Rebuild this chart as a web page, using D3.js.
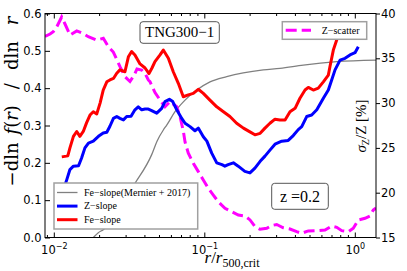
<!DOCTYPE html>
<html>
<head>
<meta charset="utf-8">
<script src="https://cdn.jsdelivr.net/npm/d3@7"></script>
<style>
  body { margin: 0; background: #fff; }
  svg { display: block; }
</style>
</head>
<body>
<div id="wrapper"></div>
<script>
// values (r in units of r500,crit)
const feSlopeR = [0.0113, 0.0121, 0.0124, 0.0128, 0.0135, 0.0142, 0.0149, 0.0157, 0.0165, 0.0174, 0.0183, 0.0193, 0.0203, 0.0213, 0.0225, 0.0236, 0.0249, 0.0262, 0.0275, 0.0297, 0.0313, 0.0329, 0.0346, 0.0374, 0.0404, 0.0429, 0.0449, 0.0470, 0.0508, 0.0534, 0.0577, 0.0622, 0.0672, 0.0725, 0.0783, 0.0845, 0.0912, 0.0985, 0.109, 0.121, 0.134, 0.148, 0.164, 0.182, 0.201, 0.217, 0.235, 0.253, 0.273, 0.295, 0.318, 0.344, 0.371, 0.401, 0.432, 0.467, 0.491, 0.530, 0.572, 0.618, 0.667, 0.684, 0.720, 0.758, 0.798, 0.835]
const feSlopeVal = [0.216, 0.218, 0.219, 0.240, 0.271, 0.284, 0.271, 0.284, 0.307, 0.328, 0.337, 0.331, 0.360, 0.395, 0.417, 0.422, 0.426, 0.440, 0.449, 0.444, 0.484, 0.498, 0.489, 0.465, 0.454, 0.439, 0.454, 0.471, 0.489, 0.502, 0.480, 0.444, 0.413, 0.377, 0.382, 0.386, 0.397, 0.386, 0.368, 0.350, 0.337, 0.324, 0.306, 0.293, 0.283, 0.275, 0.279, 0.293, 0.306, 0.317, 0.315, 0.315, 0.337, 0.346, 0.373, 0.395, 0.402, 0.395, 0.400, 0.417, 0.435, 0.458, 0.502, 0.529, 0.551, 0.577]

const zSlopeR = [0.0115, 0.0117, 0.0122, 0.0128, 0.0135, 0.0146, 0.0153, 0.0161, 0.0170, 0.0183, 0.0198, 0.0213, 0.0225, 0.0236, 0.0249, 0.0262, 0.0275, 0.0290, 0.0305, 0.0326, 0.0346, 0.0364, 0.0384, 0.0404, 0.0425, 0.0447, 0.0483, 0.0521, 0.0548, 0.0586, 0.0617, 0.0656, 0.0708, 0.0745, 0.0804, 0.0867, 0.0912, 0.0985, 0.104, 0.112, 0.121, 0.131, 0.137, 0.144, 0.156, 0.168, 0.186, 0.201, 0.217, 0.235, 0.253, 0.273, 0.295, 0.327, 0.361, 0.390, 0.421, 0.444, 0.479, 0.517, 0.559, 0.618, 0.667, 0.702, 0.739, 0.798, 0.861, 0.929, 1.003, 1.055]
const zSlopeVal = [0.122, 0.133, 0.155, 0.182, 0.191, 0.192, 0.213, 0.240, 0.253, 0.258, 0.271, 0.280, 0.282, 0.298, 0.319, 0.324, 0.319, 0.315, 0.324, 0.325, 0.342, 0.350, 0.342, 0.344, 0.344, 0.340, 0.333, 0.346, 0.364, 0.370, 0.364, 0.342, 0.319, 0.306, 0.297, 0.286, 0.293, 0.270, 0.258, 0.226, 0.200, 0.195, 0.191, 0.195, 0.200, 0.191, 0.177, 0.173, 0.186, 0.204, 0.218, 0.234, 0.250, 0.258, 0.260, 0.273, 0.289, 0.297, 0.324, 0.328, 0.342, 0.373, 0.395, 0.422, 0.449, 0.475, 0.480, 0.489, 0.495, 0.511]

// scatter is on the right axis, in percent
const zScatterR = [0.00874, 0.00944, 0.00992, 0.01045, 0.01128, 0.01187, 0.01281, 0.0142, 0.01563, 0.01695, 0.01928, 0.02133, 0.02302, 0.02485, 0.02753, 0.02972, 0.03208, 0.03426, 0.0357, 0.03837, 0.04036, 0.04246, 0.04357, 0.04704, 0.05078, 0.05482, 0.05918, 0.06556, 0.06896, 0.07254, 0.07446, 0.07831, 0.08451, 0.09123, 0.09848, 0.1063, 0.1148, 0.1239, 0.1372, 0.1521, 0.1682, 0.1864, 0.2013, 0.2173, 0.2345, 0.2598, 0.2805, 0.3028, 0.3349, 0.371, 0.4111, 0.4438, 0.491, 0.5585, 0.6339, 0.7024, 0.7583, 0.8185, 0.9053, 0.9773, 1.055, 1.169, 1.262, 1.327, 1.383]
const zScatterPct = [37.43, 37.71, 37.97, 38.49, 39.61, 38.83, 37.60, 38.05, 37.77, 37.41, 37.04, 37.23, 36.29, 35.70, 34.08, 32.95, 32.41, 33.14, 33.81, 33.69, 33.33, 32.58, 32.39, 31.18, 30.35, 29.60, 30.16, 29.60, 28.48, 26.89, 25.66, 24.40, 23.28, 22.35, 21.42, 20.49, 19.74, 18.99, 18.26, 17.88, 17.51, 17.40, 16.96, 16.21, 15.92, 16.03, 16.34, 16.45, 16.09, 15.95, 15.65, 15.47, 15.73, 15.76, 15.84, 16.28, 16.14, 15.76, 15.65, 16.03, 16.95, 17.14, 17.40, 18.07, 18.29]

// Fe slope from Mernier+2017 (grey)
const mernierR = [0.01688, 0.01831, 0.01976, 0.02133, 0.03463, 0.04472, 0.04851, 0.05342, 0.05627, 0.06388, 0.07446, 0.08903, 0.1091, 0.1409, 0.1815, 0.2466, 0.3184, 0.4548, 0.7583, 1.383]
const mernierVal = [-0.015, 0.0, 0.013, 0.021, 0.145, 0.222, 0.258, 0.288, 0.301, 0.337, 0.368, 0.395, 0.417, 0.431, 0.441, 0.449, 0.453, 0.462, 0.471, 0.475]

const xMajorTicks = [0.01, 0.1, 1]
const xTickExponents = ["\u22122", "\u22121", "0"]
const yLeftTicks = [0, 0.1, 0.2, 0.3, 0.4, 0.5, 0.6]
const yRightTicks = [15, 20, 25, 30, 35, 40]

function drawChart() {
    let dims = {
        width: 407,
        height: 271,
        margin: { top: 13.5, right: 31, bottom: 33.5, left: 45 },
    }
    dims.boundWidth = dims.width - dims.margin.left - dims.margin.right
    dims.boundHeight = dims.height - dims.margin.top - dims.margin.bottom

    const wrapper = d3.select("#wrapper")
        .append("svg")
            .attr("width", dims.width)
            .attr("height", dims.height)

    const bound = wrapper.append("g")
        .attr("transform", `translate(${dims.margin.left},${dims.margin.top})`)

    // scales
    const xScale = d3.scaleLog()
        .domain([0.00874, 1.383])
        .range([0, dims.boundWidth])
    const yScale = d3.scaleLinear()
        .domain([0, 0.6])
        .range([dims.boundHeight, 0])
    const y2Scale = d3.scaleLinear()
        .domain([15, 40])
        .range([dims.boundHeight, 0])

    // keep lines inside the axes box
    bound.append("clipPath").attr("id", "plotClip")
        .append("rect")
            .attr("width", dims.boundWidth)
            .attr("height", dims.boundHeight)

    const lines = bound.append("g").attr("clip-path", "url(#plotClip)")

    const slopeLine = d3.line()
        .x(d => xScale(d[0]))
        .y(d => yScale(d[1]))
    const scatterLine = d3.line()
        .x(d => xScale(d[0]))
        .y(d => y2Scale(d[1]))

    lines.append("path")
        .attr("d", slopeLine.curve(d3.curveMonotoneX)(d3.zip(mernierR, mernierVal)))
        .attr("fill", "none")
        .attr("stroke", "#808080")
        .attr("stroke-width", 1.3)
    slopeLine.curve(d3.curveLinear)

    lines.append("path")
        .attr("d", scatterLine(d3.zip(zScatterR, zScatterPct)))
        .attr("fill", "none")
        .attr("stroke", "#ff00ff")
        .attr("stroke-width", 3)
        .attr("stroke-dasharray", "11,5")

    lines.append("path")
        .attr("d", slopeLine(d3.zip(zSlopeR, zSlopeVal)))
        .attr("fill", "none")
        .attr("stroke", "#0000ff")
        .attr("stroke-width", 3)
        .attr("stroke-linejoin", "round")

    lines.append("path")
        .attr("d", slopeLine(d3.zip(feSlopeR, feSlopeVal)))
        .attr("fill", "none")
        .attr("stroke", "#ff0000")
        .attr("stroke-width", 3)
        .attr("stroke-linejoin", "round")

    // minor ticks on the log axis
    const xMinorTicks = []
    ;[0.001, 0.01, 0.1].forEach(dec => d3.range(2, 10).forEach(k => {
        const v = k * dec
        if (v >= xScale.domain()[0] && v <= xScale.domain()[1]) xMinorTicks.push(v)
    }))

    // axes: ticks point inward except the right one
    const tickFont = "'DejaVu Sans', sans-serif"
    const xAxisBottom = bound.append("g")
        .attr("transform", `translate(0,${dims.boundHeight})`)
        .call(d3.axisBottom(xScale).tickValues(xMajorTicks).tickSizeInner(-5).tickSizeOuter(0).tickFormat(() => ""))
    bound.append("g")
        .attr("transform", `translate(0,${dims.boundHeight})`)
        .call(d3.axisBottom(xScale).tickValues(xMinorTicks).tickSizeInner(-2.5).tickSizeOuter(0).tickFormat(() => ""))
    bound.append("g")
        .call(d3.axisTop(xScale).tickValues(xMajorTicks).tickSizeInner(-5).tickSizeOuter(0).tickFormat(() => ""))
    bound.append("g")
        .call(d3.axisTop(xScale).tickValues(xMinorTicks).tickSizeInner(-2.5).tickSizeOuter(0).tickFormat(() => ""))

    // 10^n labels
    xAxisBottom.selectAll(".tick text")
        .attr("y", 16.5)
        .attr("dy", null)
        .attr("font-family", tickFont)
        .attr("font-size", 11.5)
        .attr("fill", "#000")
        .each(function(d, i) {
            const t = d3.select(this)
            t.append("tspan").text("10")
            t.append("tspan").attr("dy", -5).attr("font-size", 8).text(xTickExponents[i])
        })

    const yAxisLeft = bound.append("g")
        .call(d3.axisLeft(yScale).tickValues(yLeftTicks).tickSizeInner(-5).tickSizeOuter(0).tickPadding(3.5).tickFormat(d3.format(".1f")))
    const yAxisRight = bound.append("g")
        .attr("transform", `translate(${dims.boundWidth},0)`)
        .call(d3.axisRight(y2Scale).tickValues(yRightTicks).tickSizeInner(4).tickSizeOuter(0).tickPadding(1))

    ;[yAxisLeft, yAxisRight].forEach(ax => ax.selectAll(".tick text")
        .attr("font-family", tickFont)
        .attr("font-size", 11.5)
        .attr("fill", "#000"))

    bound.selectAll(".domain").remove()
    bound.selectAll(".tick line").attr("stroke", "#000")

    // frame
    bound.append("rect")
        .attr("width", dims.boundWidth)
        .attr("height", dims.boundHeight)
        .attr("fill", "none")
        .attr("stroke", "#000")
        .attr("stroke-width", 1)

    const serif = "'Liberation Serif', 'DejaVu Serif', serif"

    // axis labels
    const xLabel = wrapper.append("text")
        .attr("x", 232)
        .attr("y", 262.5)
        .attr("text-anchor", "middle")
        .attr("font-family", serif)
        .attr("font-size", 17)
    xLabel.append("tspan").attr("font-style", "italic").text("r")
    xLabel.append("tspan").text("/")
    xLabel.append("tspan").attr("font-style", "italic").text("r")
    xLabel.append("tspan").attr("dy", 4).attr("font-size", 12).text("500,crit")

    // mathtext in the source leaves wide gaps between the pieces
    const yLabel = wrapper.append("text")
        .attr("transform", `translate(17.5,101.5) rotate(-90)`)
        .attr("text-anchor", "middle")
        .attr("font-family", "'DejaVu Serif', serif")
        .attr("font-size", 18)
    yLabel.append("tspan").text("\u2212dln")
    yLabel.append("tspan").attr("dx", 8).attr("font-style", "italic").text("f")
    yLabel.append("tspan").text("(")
    yLabel.append("tspan").attr("font-style", "italic").text("r")
    yLabel.append("tspan").text(")")
    yLabel.append("tspan").attr("dx", 16).text("/")
    yLabel.append("tspan").attr("dx", 13).text("dln")
    yLabel.append("tspan").attr("dx", 16).attr("font-style", "italic").text("r")

    const y2Label = wrapper.append("text")
        .attr("transform", `translate(366,126) rotate(-90)`)
        .attr("text-anchor", "middle")
        .attr("font-family", serif)
        .attr("font-size", 15)
        .attr("xml:space", "preserve")
    y2Label.append("tspan").attr("font-style", "italic").text("\u03c3")
    y2Label.append("tspan").attr("dy", 3).attr("font-size", 10).text("Z")
    y2Label.append("tspan").attr("dy", -3).text("/Z [%]")

    // lower-left legend
    const legend = wrapper.append("g")
    legend.append("rect")
        .attr("x", 54).attr("y", 183)
        .attr("width", 143.7).attr("height", 46)
        .attr("fill", "#fff")
        .attr("stroke", "#a0a0a0")
        .attr("stroke-width", 1.5)
    const legendItems = [
        { label: "Fe\u2212slope(Mernier + 2017)", color: "#808080", width: 1.3 },
        { label: "Z\u2212slope", color: "#0000ff", width: 3 },
        { label: "Fe\u2212slope", color: "#ff0000", width: 3 },
    ]
    legendItems.forEach((item, i) => {
        const y = 192.5 + i * 13.6
        legend.append("line")
            .attr("x1", 57).attr("x2", 77.5)
            .attr("y1", y).attr("y2", y)
            .attr("stroke", item.color)
            .attr("stroke-width", item.width)
        legend.append("text")
            .attr("x", 84).attr("y", y + 3.3)
            .attr("font-family", serif)
            .attr("font-size", 10)
            .text(item.label)
    })

    // upper-right legend
    const legend2 = wrapper.append("g")
    legend2.append("rect")
        .attr("x", 282.3).attr("y", 21.7)
        .attr("width", 84.4).attr("height", 17.6)
        .attr("fill", "#fff")
        .attr("stroke", "#a0a0a0")
        .attr("stroke-width", 1.5)
    legend2.append("line")
        .attr("x1", 285.7).attr("x2", 311)
        .attr("y1", 30.3).attr("y2", 30.3)
        .attr("stroke", "#ff00ff")
        .attr("stroke-width", 3)
        .attr("stroke-dasharray", "11,5")
    legend2.append("text")
        .attr("x", 321.7).attr("y", 33.6)
        .attr("font-family", serif)
        .attr("font-size", 10)
        .text("Z\u2212scatter")

    // text boxes
    const tngBox = wrapper.append("g")
    tngBox.append("rect")
        .attr("x", 140).attr("y", 21.7)
        .attr("width", 79.3).attr("height", 21.6)
        .attr("rx", 3)
        .attr("fill", "#fff")
        .attr("stroke", "#555")
        .attr("stroke-width", 1)
    tngBox.append("text")
        .attr("x", 179.7).attr("y", 37.3)
        .attr("text-anchor", "middle")
        .attr("font-family", serif)
        .attr("font-size", 15)
        .text("TNG300\u22121")

    const zBox = wrapper.append("g")
    zBox.append("rect")
        .attr("x", 271.7).attr("y", 183.3)
        .attr("width", 56.6).attr("height", 26)
        .attr("rx", 3)
        .attr("fill", "#fff")
        .attr("stroke", "#555")
        .attr("stroke-width", 1)
    zBox.append("text")
        .attr("x", 300).attr("y", 201.5)
        .attr("text-anchor", "middle")
        .attr("font-family", serif)
        .attr("font-size", 16)
        .attr("xml:space", "preserve")
        .text("z =0.2")
}

drawChart()
</script>
</body>
</html>
